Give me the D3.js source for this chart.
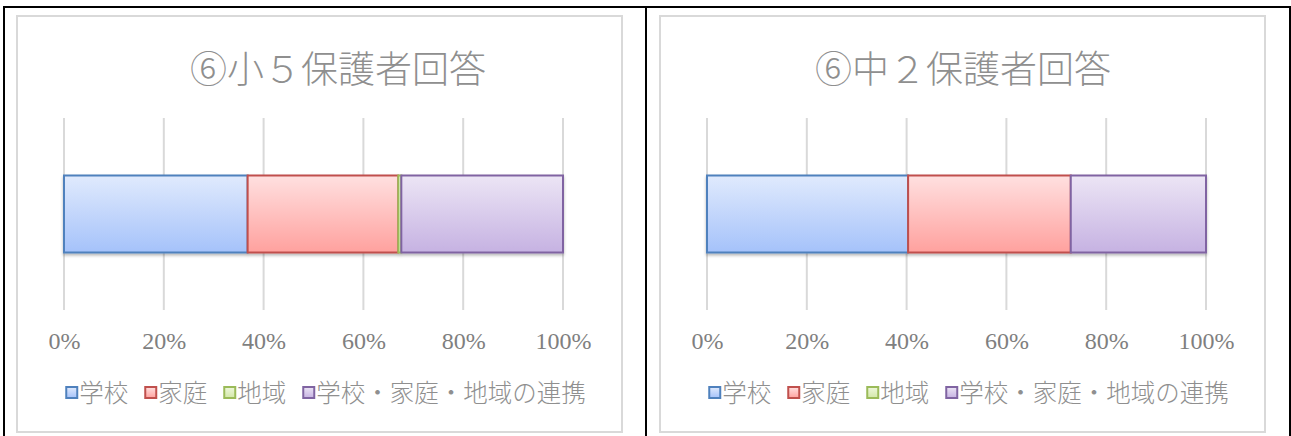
<!DOCTYPE html>
<html lang="ja">
<head>
<meta charset="utf-8">
<script src="https://cdn.jsdelivr.net/npm/d3@7"></script>
<style>
  html, body { margin: 0; padding: 0; background: #ffffff; }
  svg { display: block; }
</style>
</head>
<body>
<svg id="chart" width="1291" height="436"></svg>
<script>
// Response categories (stack order, left to right)
const categories = ["学校", "家庭", "地域", "学校・家庭・地域の連携"];

// Share of answers per category, in percent
const valuesGrade5 = [36.8, 30.2, 0.6, 32.4];
const valuesGrade8 = [40.3, 32.6, 0.0, 27.1];

// Panel titles
const titles = ["⑥小５保護者回答", "⑥中２保護者回答"];

// Axis tick values
const tickValues = [0, 0.2, 0.4, 0.6, 0.8, 1.0];

const panelsData = [
  { title: titles[0], values: valuesGrade5 },
  { title: titles[1], values: valuesGrade8 }
];

// Fill gradients (top → bottom) and outline colours per category
const palette = [
  { top: "#e0eafd", bottom: "#a5c2fa", stroke: "#4f81bd" },
  { top: "#ffe0e0", bottom: "#ffa19e", stroke: "#c0504d" },
  { top: "#eef7dc", bottom: "#d3e8a8", stroke: "#9bbb59" },
  { top: "#ece5f5", bottom: "#c6b2e2", stroke: "#8064a2" }
];

const svg = d3.select("#chart");
const defs = svg.append("defs");

palette.forEach((p, i) => {
  const g = defs.append("linearGradient")
    .attr("id", "grad" + i)
    .attr("x1", 0).attr("y1", 0).attr("x2", 0).attr("y2", 1);
  g.append("stop").attr("offset", "0%").attr("stop-color", p.top);
  g.append("stop").attr("offset", "100%").attr("stop-color", p.bottom);
});

const shadow = defs.append("filter").attr("id", "barShadow")
  .attr("x", "-5%").attr("y", "-10%").attr("width", "110%").attr("height", "130%");
shadow.append("feDropShadow")
  .attr("dx", 0).attr("dy", 2).attr("stdDeviation", 1.5)
  .attr("flood-color", "#000").attr("flood-opacity", 0.28);

// Outer black frame around both panels
svg.append("rect")
  .attr("x", 4).attr("y", 7).attr("width", 1286).attr("height", 440)
  .attr("fill", "none").attr("stroke", "#000").attr("stroke-width", 2);
svg.append("line")
  .attr("x1", 646).attr("x2", 646).attr("y1", 7).attr("y2", 436)
  .attr("stroke", "#000").attr("stroke-width", 2);

const panelLayout = [
  { x: 17, titleX: 321 },
  { x: 660, titleX: 303 }
];
const panelW = 605, panelH = 416, panelY = 16;

const stack = d3.stack().keys(d3.range(categories.length));

panelsData.forEach((pd, pi) => {
  const lay = panelLayout[pi];
  const g = svg.append("g").attr("transform", `translate(${lay.x},${panelY})`);

  // Chart area border
  g.append("rect")
    .attr("x", 0).attr("y", 0).attr("width", panelW).attr("height", panelH)
    .attr("fill", "#fff").attr("stroke", "#d9d9d9").attr("stroke-width", 2);

  // Title
  g.append("text")
    .attr("x", lay.titleX).attr("y", 67)
    .attr("text-anchor", "middle")
    .attr("font-family", "'Noto Sans CJK JP', sans-serif")
    .attr("font-size", 37)
    .attr("font-weight", 300)
    .attr("fill", "#8f8f8f")
    .text(pd.title);

  const x = d3.scaleLinear().domain([0, 1]).range([47, 546]);
  const y = d3.scaleBand().domain(["保護者"]).range([102, 294])
    .paddingInner(0.4275).paddingOuter(0.4275);

  // Vertical gridlines
  g.append("g").selectAll("line").data(tickValues).join("line")
    .attr("x1", d => x(d)).attr("x2", d => x(d))
    .attr("y1", 102).attr("y2", 294)
    .attr("stroke", "#d9d9d9").attr("stroke-width", 2);

  // Percent axis labels
  const axis = d3.axisBottom(x).tickValues(tickValues)
    .tickFormat(d3.format(".0%")).tickSize(0).tickPadding(0);
  const ax = g.append("g").attr("transform", "translate(0,316)").call(axis);
  ax.select(".domain").remove();
  ax.selectAll("text")
    .attr("dy", "0.71em")
    .attr("font-family", "'Liberation Serif', 'DejaVu Serif', serif")
    .attr("font-size", 24)
    .attr("fill", "#7f7f7f");

  // Stacked bar
  const row = {};
  pd.values.forEach((v, i) => { row[i] = v / 100; });
  const series = stack([row]);

  const bars = g.append("g").attr("filter", "url(#barShadow)");
  bars.selectAll("rect").data(series).join("rect")
    .attr("x", s => x(s[0][0]))
    .attr("y", y("保護者"))
    .attr("width", s => Math.max(0, x(s[0][1]) - x(s[0][0])))
    .attr("height", y.bandwidth())
    .attr("fill", (s, i) => `url(#grad${i})`)
    .attr("stroke", (s, i) => palette[i].stroke)
    .attr("stroke-width", (s) => (s[0][1] - s[0][0]) > 0 ? 2 : 0);

  // Legend
  const legend = g.append("g");
  const items = legend.selectAll("g").data(categories).join("g");
  items.append("rect")
    .attr("x", 1).attr("y", -6).attr("width", 11).attr("height", 11)
    .attr("fill", (d, i) => `url(#grad${i})`)
    .attr("stroke", (d, i) => palette[i].stroke).attr("stroke-width", 2);
  items.append("text")
    .attr("x", 14).attr("y", 0).attr("dy", "0.36em")
    .attr("font-family", "'Noto Sans CJK JP', sans-serif")
    .attr("font-size", 24.5)
    .attr("font-weight", 300)
    .attr("fill", "#8f8f8f")
    .text(d => d);

  let cursor = 0;
  const gap = 17;
  items.each(function () {
    const w = this.getBBox().width;
    d3.select(this).attr("transform", `translate(${cursor},0)`);
    cursor += w + gap;
  });
  const total = cursor - gap;
  const legendCenter = 308;
  legend.attr("transform", `translate(${legendCenter - total / 2},${377})`);
});
</script>
</body>
</html>
